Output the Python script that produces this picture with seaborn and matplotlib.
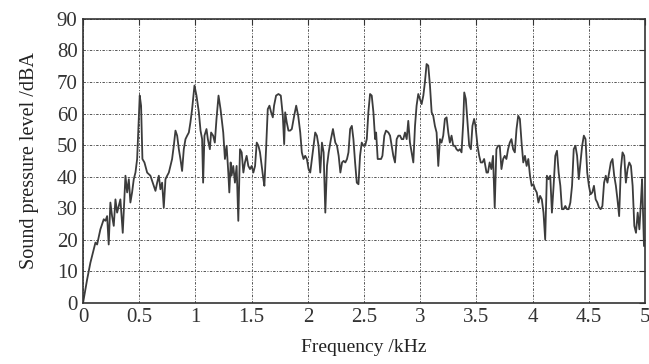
import matplotlib
matplotlib.use("Agg")
import matplotlib.pyplot as plt
import seaborn as sns
import pandas as pd

freq_khz = [
    0.0, 0.036, 0.065, 0.110, 0.125, 0.154, 0.184, 0.199, 0.214, 0.228, 0.243, 0.258, 0.273, 0.288, 0.303,
    0.332, 0.353, 0.377, 0.392, 0.407, 0.421, 0.436, 0.451, 0.466, 0.481, 0.496, 0.504, 0.516, 0.528,
    0.546, 0.570, 0.599, 0.629, 0.644, 0.659, 0.674, 0.688, 0.703, 0.718, 0.733, 0.748, 0.763, 0.777,
    0.792, 0.807, 0.822, 0.837, 0.852, 0.866, 0.881, 0.896, 0.911, 0.926, 0.941, 0.955, 0.970, 0.991,
    1.009, 1.030, 1.045, 1.059, 1.068, 1.080, 1.098, 1.110, 1.128, 1.139, 1.157, 1.172, 1.187,
    1.205, 1.223, 1.247, 1.262, 1.277, 1.292, 1.301, 1.313, 1.321, 1.336, 1.351, 1.366, 1.381, 1.396,
    1.411, 1.426, 1.440, 1.455, 1.470, 1.485, 1.500, 1.515, 1.530, 1.545, 1.560, 1.574, 1.589, 1.604,
    1.613, 1.628, 1.643, 1.658, 1.673, 1.688, 1.699, 1.717, 1.738, 1.759, 1.777, 1.789, 1.798, 1.812,
    1.827, 1.842, 1.857, 1.878, 1.896, 1.914, 1.932, 1.946, 1.961, 1.976, 1.991, 2.006, 2.021, 2.036,
    2.051, 2.065, 2.080, 2.095, 2.110, 2.125, 2.140, 2.155, 2.170, 2.185, 2.205, 2.223, 2.244, 2.259,
    2.274, 2.289, 2.304, 2.318, 2.333, 2.348,
    2.361, 2.376, 2.391, 2.405, 2.420, 2.435, 2.450, 2.464, 2.479, 2.494, 2.509, 2.524, 2.538, 2.553,
    2.568, 2.583, 2.598, 2.607, 2.621, 2.633, 2.651, 2.663, 2.680, 2.695, 2.716, 2.731, 2.746, 2.760,
    2.775, 2.790, 2.805, 2.820, 2.834, 2.849, 2.864, 2.879, 2.893, 2.908, 2.923, 2.938, 2.953, 2.967,
    2.982, 2.997, 3.012, 3.027, 3.041, 3.056, 3.071, 3.086, 3.101, 3.115, 3.130, 3.145, 3.160, 3.175,
    3.189, 3.204, 3.219, 3.234, 3.249, 3.263, 3.278, 3.293, 3.308, 3.322, 3.337, 3.352, 3.367, 3.382,
    3.391, 3.405, 3.420, 3.435, 3.450, 3.464, 3.479, 3.491, 3.509, 3.524, 3.538, 3.553, 3.568, 3.589,
    3.602, 3.617, 3.632, 3.647, 3.662, 3.677, 3.692, 3.707, 3.722, 3.737, 3.751, 3.766, 3.781, 3.796,
    3.811, 3.826, 3.841, 3.856, 3.871, 3.886, 3.901, 3.916, 3.931, 3.946, 3.961, 3.976, 3.991, 4.006,
    4.021, 4.036, 4.051, 4.066, 4.081, 4.096, 4.111, 4.126, 4.141, 4.156, 4.171, 4.186, 4.201, 4.216,
    4.231, 4.246, 4.260, 4.275, 4.290, 4.305, 4.320, 4.335, 4.350, 4.365, 4.380, 4.395, 4.410, 4.425,
    4.440, 4.455, 4.470, 4.485, 4.500, 4.515, 4.530, 4.545, 4.560, 4.575, 4.590, 4.605, 4.620, 4.635,
    4.650, 4.665, 4.680, 4.695, 4.710, 4.725, 4.740, 4.754, 4.769, 4.784, 4.799, 4.814, 4.829, 4.844,
    4.859, 4.874, 4.889, 4.904, 4.919, 4.934, 4.949, 4.964, 4.973, 4.990,
]

spl_dba = [
    0.0, 7.4, 12.7, 19.1, 18.5, 23.3, 26.5, 26.0, 27.5, 18.5, 31.8, 27.5, 24.4, 32.8, 28.6,
    32.8, 22.2, 40.3, 35.0, 39.2, 31.8, 35.0, 39.2, 41.3, 45.6, 58.3, 65.7, 62.5, 45.6,
    44.5, 41.3, 40.3, 37.1, 35.5, 38.1, 40.3, 36.0, 38.1, 30.2, 39.2, 40.3, 41.3, 43.4,
    45.6, 49.8, 54.6, 53.0, 48.7, 45.6, 41.8, 48.7, 51.9, 53.0, 54.0, 57.2, 61.4, 68.9,
    65.7, 60.4, 54.6, 51.9, 38.1, 53.0, 55.1, 51.9, 48.7, 54.0, 53.0, 50.8, 58.3,
    65.7, 61.4, 54.0, 45.6, 49.8, 41.3, 35.0, 44.5, 40.3, 43.4, 38.1, 43.4, 26.0, 48.7,
    47.7, 41.3, 44.5, 46.6, 43.4, 42.4, 43.4, 41.3, 43.4, 50.8, 49.8, 47.7, 43.4, 39.2,
    37.1, 48.7, 61.4, 62.5, 60.4, 58.8, 62.5, 65.7, 66.2, 65.7, 59.3, 50.3, 60.4, 57.2,
    54.6, 54.6, 55.1, 59.3, 62.5, 59.3, 54.0, 47.7, 45.6, 46.6, 45.6, 42.4, 41.3, 45.6,
    49.8, 54.0, 53.0, 49.8, 41.3, 50.8, 47.7, 28.6, 43.4, 47.7, 51.9, 55.1, 50.8, 49.8,
    46.6, 41.3, 44.5, 45.0, 44.5, 45.6,
    47.7, 55.1, 56.1, 51.9, 44.5, 38.1, 37.6, 46.6, 50.8, 49.8, 49.8, 51.9, 60.4, 66.2,
    65.7, 60.4, 51.9, 54.0, 45.6, 45.6, 45.6, 46.6, 53.0, 54.6, 54.0, 53.0, 49.8, 46.6,
    44.5, 51.9, 53.0, 53.0, 51.9, 51.9, 54.0, 51.9, 57.7, 50.8, 47.7, 44.5, 56.1, 62.5,
    66.2, 64.6, 63.0, 65.7, 69.9, 75.7, 75.2, 68.9, 60.4, 59.3, 56.1, 54.0, 43.4, 51.9,
    50.8, 53.0, 58.3, 58.8, 54.0, 50.8, 53.0, 49.8, 49.8, 48.7, 48.2, 48.7, 47.7, 57.2,
    66.7, 64.6, 57.2, 49.8, 48.7, 56.1, 58.3, 56.1, 49.8, 46.6, 44.5, 44.5, 45.6, 41.3,
    41.3, 44.5, 42.4, 46.6, 30.2, 48.7, 49.8, 49.8, 42.4, 45.6, 46.6, 45.6, 48.7, 50.8,
    51.9, 48.7, 47.7, 55.1, 59.3, 58.3, 50.8, 44.5, 46.6, 43.4, 45.6, 40.3, 37.1, 37.6,
    36.0, 35.0, 31.8, 33.9, 32.8, 28.6, 20.1, 40.3, 39.2, 40.3, 28.6, 37.1, 46.6, 48.2,
    41.3, 37.1, 29.7, 29.7, 30.7, 29.7, 29.7, 31.8, 37.1, 48.7, 49.8, 46.6, 39.2, 44.5,
    49.8, 53.0, 51.9, 41.3, 37.1, 34.4, 35.0, 37.1, 32.8, 31.8, 30.2, 29.7, 30.7, 38.1,
    40.3, 38.1, 41.3, 44.5, 45.6, 40.3, 37.1, 32.8, 27.5, 42.4, 47.7, 46.6, 38.1, 42.4,
    44.5, 43.4, 37.1, 24.4, 22.2, 28.6, 23.3, 32.8, 39.2, 18.0,
]

x_ticks = [0, 0.5, 1, 1.5, 2, 2.5, 3, 3.5, 4, 4.5, 5]
x_tick_labels = ["0", "0.5", "1", "1.5", "2", "2.5", "3", "3.5", "4", "4.5", "5"]
y_ticks = [0, 10, 20, 30, 40, 50, 60, 70, 80, 90]

df = pd.DataFrame({"freq": freq_khz, "spl": spl_dba})

sns.set_style("white")
plt.rcParams["font.family"] = ["Liberation Serif", "DejaVu Serif"]

fig = plt.figure(figsize=(6.49, 3.64), dpi=100)
ax = fig.add_axes([0.128, 0.168, 0.866, 0.780])

sns.lineplot(data=df, x="freq", y="spl", ax=ax, color="#3c3c3c", linewidth=1.3, sort=False)

ax.set_xlim(0, 5)
ax.set_ylim(0, 90)
ax.set_xticks(x_ticks)
ax.set_xticklabels(x_tick_labels)
ax.set_yticks(y_ticks)
ax.grid(True, color="#555555", linestyle=(0, (2.5, 1.5, 1, 1.5)), linewidth=0.7)
ax.set_axisbelow(True)
for s in ax.spines.values():
    s.set_color("#333333")
    s.set_linewidth(1.2)
ax.tick_params(axis="both", which="both", direction="in", length=4, width=0.8,
               labelsize=15, colors="#333333", top=True, right=True, pad=4)
ax.set_xlabel("Frequency /kHz", fontsize=14, color="#222222", labelpad=8)
ax.set_ylabel("Sound pressure level /dBA", fontsize=14.5, color="#222222", labelpad=13)

fig.savefig("out.png", dpi=100)
